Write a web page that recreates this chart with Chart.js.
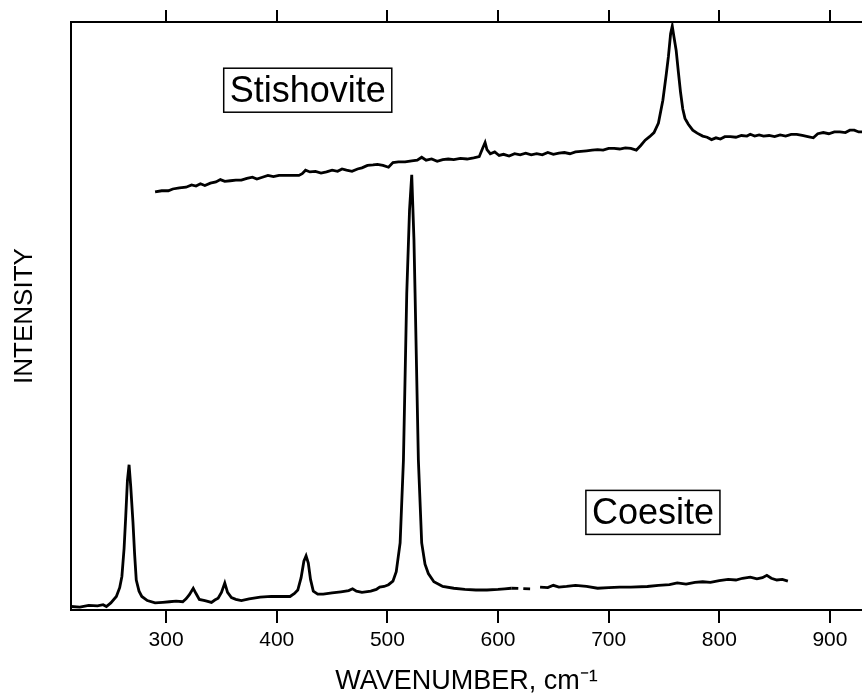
<!DOCTYPE html>
<html>
<head>
<meta charset="utf-8">
<script src="https://cdn.jsdelivr.net/npm/chart.js@4.4.1/dist/chart.umd.min.js"></script>
<style>
  body { margin: 0; background: #fff; }
  canvas { display: block; }
</style>
</head>
<body>
<canvas id="spectra" width="862" height="698"></canvas>
<script>
// wavenumber ticks
const tickValues = [300, 400, 500, 600, 700, 800, 900];

// Coesite spectrum (cm-1, arbitrary intensity); null = gap in the trace
const coesiteX = [214, 222, 230, 238, 243, 246, 250, 255, 258, 260, 262, 263.5, 265, 266.5, 268, 270, 271.5, 273, 275.5, 278,
  283, 290, 297, 303, 309, 315, 318, 321, 324.5, 327, 330, 335, 341, 344, 347, 350, 353, 355.5, 359, 363,
  368, 375, 385, 395, 405, 412, 416, 419, 422, 424.5, 426.5, 428.5, 430.5, 433, 437, 442, 450, 458, 465, 468.5,
  472, 477, 485, 490, 493, 497, 501, 505, 508, 511.5, 514.5, 517.5, 520, 522, 524, 525, 528, 531, 534, 537,
  542, 547.6, 550, 560, 570, 580, 590, 600, 606, 612, 629, 633, 638, 645, 650, 655, 662, 670, 680, 690,
  700, 710, 720, 735, 745, 755, 762, 770, 778, 785, 792, 800, 808, 815, 821, 828, 834, 839, 843, 847,
  852, 857, 862];
const coesiteY = [0.6, 0.5, 0.8, 0.7, 0.9, 0.6, 1.2, 2.3, 3.8, 5.7, 10.5, 16, 22, 24.7, 21, 15, 9.5, 5.1, 3.2, 2.3,
  1.6, 1.2, 1.3, 1.4, 1.5, 1.4, 1.9, 2.6, 3.7, 2.8, 1.8, 1.6, 1.3, 1.7, 2.0, 3.0, 4.6, 3.0, 2.1, 1.8,
  1.6, 1.9, 2.2, 2.3, 2.3, 2.3, 2.8, 3.4, 5.5, 8.3, 9.2, 8.0, 5.2, 3.2, 2.7, 2.7, 2.9, 3.1, 3.3, 3.6,
  3.2, 3.0, 3.2, 3.5, 3.9, 4.0, 4.3, 4.9, 6.5, 11.4, 25.5, 53.9, 68, 74, 63, 53.9, 25.5, 11.4, 7.8, 6.2,
  4.8, 4.25, 4.0, 3.7, 3.5, 3.4, 3.4, 3.5, 3.6, 3.7, 3.6, null, 3.9, 3.8, 4.2, 3.9, 4.0, 4.2, 4.0, 3.7,
  3.8, 3.9, 3.9, 4.0, 4.2, 4.3, 4.6, 4.4, 4.7, 4.8, 4.7, 5.0, 5.2, 5.1, 5.4, 5.6, 5.3, 5.5, 5.9, 5.4,
  5.1, 5.2, 4.9];

// Stishovite spectrum
const stishoviteX = [290, 296, 302, 306, 312, 318, 323, 327, 331, 335, 340, 345, 349, 353, 358, 363, 368, 373, 378, 382,
  387, 392, 397, 402, 408, 414, 420, 423, 426, 430, 435, 440, 445, 450, 455, 459, 463, 468, 473, 477,
  482, 487, 491, 496, 501, 505, 510, 516, 522, 527, 531, 535, 540, 545, 550, 555, 560, 566, 572, 578,
  583, 586, 588.3, 590, 593, 597, 601, 605, 610, 615, 620, 625, 630, 635, 640, 645, 650, 655, 660, 665,
  670, 675, 680, 685, 690, 695, 700, 705, 710, 715, 720, 725, 729, 733, 737, 741, 745, 749, 752, 754,
  756, 757.5, 759, 761, 763, 765, 767, 769, 772, 776, 780, 785, 789, 793, 797, 801, 805, 810, 815, 820,
  825, 828, 832, 836, 840, 845, 850, 855, 860, 865, 870, 875, 880, 885, 889, 894, 899, 904, 909, 914,
  918, 922, 926, 930];
const stishoviteY = [71.1, 71.3, 71.3, 71.6, 71.8, 71.9, 72.3, 72.1, 72.5, 72.2, 72.6, 72.8, 73.2, 72.9, 73.0, 73.1, 73.1, 73.4, 73.6, 73.3,
  73.6, 73.9, 73.7, 73.9, 73.9, 73.9, 73.9, 74.2, 74.8, 74.5, 74.6, 74.3, 74.5, 74.8, 74.6, 75.0, 74.8, 74.6, 75.0, 75.2,
  75.6, 75.7, 75.8, 75.6, 75.3, 76.1, 76.2, 76.2, 76.4, 76.5, 77.0, 76.5, 76.7, 76.3, 76.6, 76.7, 76.6, 76.8, 76.7, 76.9,
  77.1, 78.5, 79.5, 78.3, 77.6, 77.9, 77.3, 77.5, 77.2, 77.6, 77.4, 77.7, 77.4, 77.6, 77.4, 77.8, 77.5, 77.7, 77.8, 77.6,
  77.9, 78.0, 78.1, 78.2, 78.3, 78.2, 78.5, 78.5, 78.4, 78.6, 78.5, 78.2, 79.0, 79.9, 80.5, 81.2, 82.8, 86.7, 91, 94.1,
  98, 99.3, 97.5, 95.2, 91.5, 88, 85.2, 83.6, 82.6, 81.6, 81.1, 80.6, 80.4, 80.0, 80.3, 80.1, 80.5, 80.5, 80.4, 80.7,
  80.6, 80.9, 80.6, 80.8, 80.6, 80.7, 80.5, 80.8, 80.6, 80.9, 80.9, 80.7, 80.5, 80.3, 81.0, 81.2, 81.0, 81.3, 81.3, 81.2,
  81.6, 81.6, 81.3, 81.3];

const FONT = "'Liberation Sans', Arial, Helvetica, sans-serif";

// boxed sample labels, placed in data coordinates
const boxLabels = [
  { text: "Stishovite", x: 428, y: 88.4 },
  { text: "Coesite", x: 740, y: 16.6 }
];

function toPoints(xs, ys) {
  return xs.map((x, i) => ({ x: x, y: ys[i] }));
}

const boxLabelPlugin = {
  id: "boxLabels",
  afterDatasetsDraw(chart) {
    const ctx = chart.ctx;
    const xs = chart.scales.x, ys = chart.scales.y;
    ctx.save();
    ctx.font = "36px " + FONT;
    ctx.textAlign = "center";
    ctx.textBaseline = "middle";
    boxLabels.forEach((lb) => {
      const cx = xs.getPixelForValue(lb.x);
      const cy = ys.getPixelForValue(lb.y);
      const w = ctx.measureText(lb.text).width + 12;
      const h = 44;
      ctx.fillStyle = "#fff";
      ctx.fillRect(cx - w / 2, cy - h / 2, w, h);
      ctx.strokeStyle = "#000";
      ctx.lineWidth = 1.5;
      ctx.strokeRect(cx - w / 2, cy - h / 2, w, h);
      ctx.fillStyle = "#000";
      ctx.fillText(lb.text, cx, cy + 2);
    });
    ctx.restore();
  }
};

const setTicks = (scale) => {
  scale.ticks = tickValues.map((v) => ({ value: v }));
};

new Chart(document.getElementById("spectra"), {
  type: "line",
  data: {
    datasets: [
      {
        label: "Stishovite",
        data: toPoints(stishoviteX, stishoviteY),
        borderColor: "#000",
        borderWidth: 2.8,
        pointRadius: 0,
        tension: 0
      },
      {
        label: "Coesite",
        data: toPoints(coesiteX, coesiteY),
        borderColor: "#000",
        borderWidth: 2.8,
        pointRadius: 0,
        tension: 0,
        spanGaps: false,
        segment: {
          borderDash: (c) => (c.p0.parsed.x >= 612 && c.p1.parsed.x <= 630 ? [7, 5] : undefined)
        }
      }
    ]
  },
  options: {
    responsive: false,
    animation: false,
    devicePixelRatio: 1,
    layout: { padding: { top: 10, right: 0, bottom: 0, left: 0 } },
    plugins: {
      legend: { display: false },
      tooltip: { enabled: false }
    },
    scales: {
      x: {
        type: "linear",
        position: "bottom",
        min: 214,
        max: 929,
        afterBuildTicks: setTicks,
        afterFit: (s) => { s.height = 88; },
        border: { display: true, color: "#000", width: 2 },
        grid: { drawOnChartArea: false, drawTicks: true, tickLength: 13, color: "#000", lineWidth: 2 },
        ticks: { color: "#000", font: { family: FONT, size: 21 }, padding: 5, maxRotation: 0 },
        title: {
          display: true,
          text: "WAVENUMBER, cm⁻¹",
          color: "#000",
          font: { family: FONT, size: 27 },
          padding: { top: 0, bottom: 0 }
        }
      },
      x2: {
        type: "linear",
        position: "top",
        min: 214,
        max: 929,
        afterBuildTicks: setTicks,
        afterFit: (s) => { s.height = 12; },
        border: { display: true, color: "#000", width: 2 },
        grid: { drawOnChartArea: false, drawTicks: true, tickLength: 12, color: "#000", lineWidth: 2 },
        ticks: { display: false }
      },
      y: {
        type: "linear",
        min: 0,
        max: 100,
        afterFit: (s) => { s.width = 71; },
        border: { display: true, color: "#000", width: 2 },
        grid: { display: false },
        ticks: { display: false },
        title: {
          display: true,
          text: "INTENSITY",
          color: "#000",
          font: { family: FONT, size: 26 },
          padding: { top: 9, bottom: 0 }
        }
      }
    }
  },
  plugins: [boxLabelPlugin]
});
</script>
</body>
</html>
